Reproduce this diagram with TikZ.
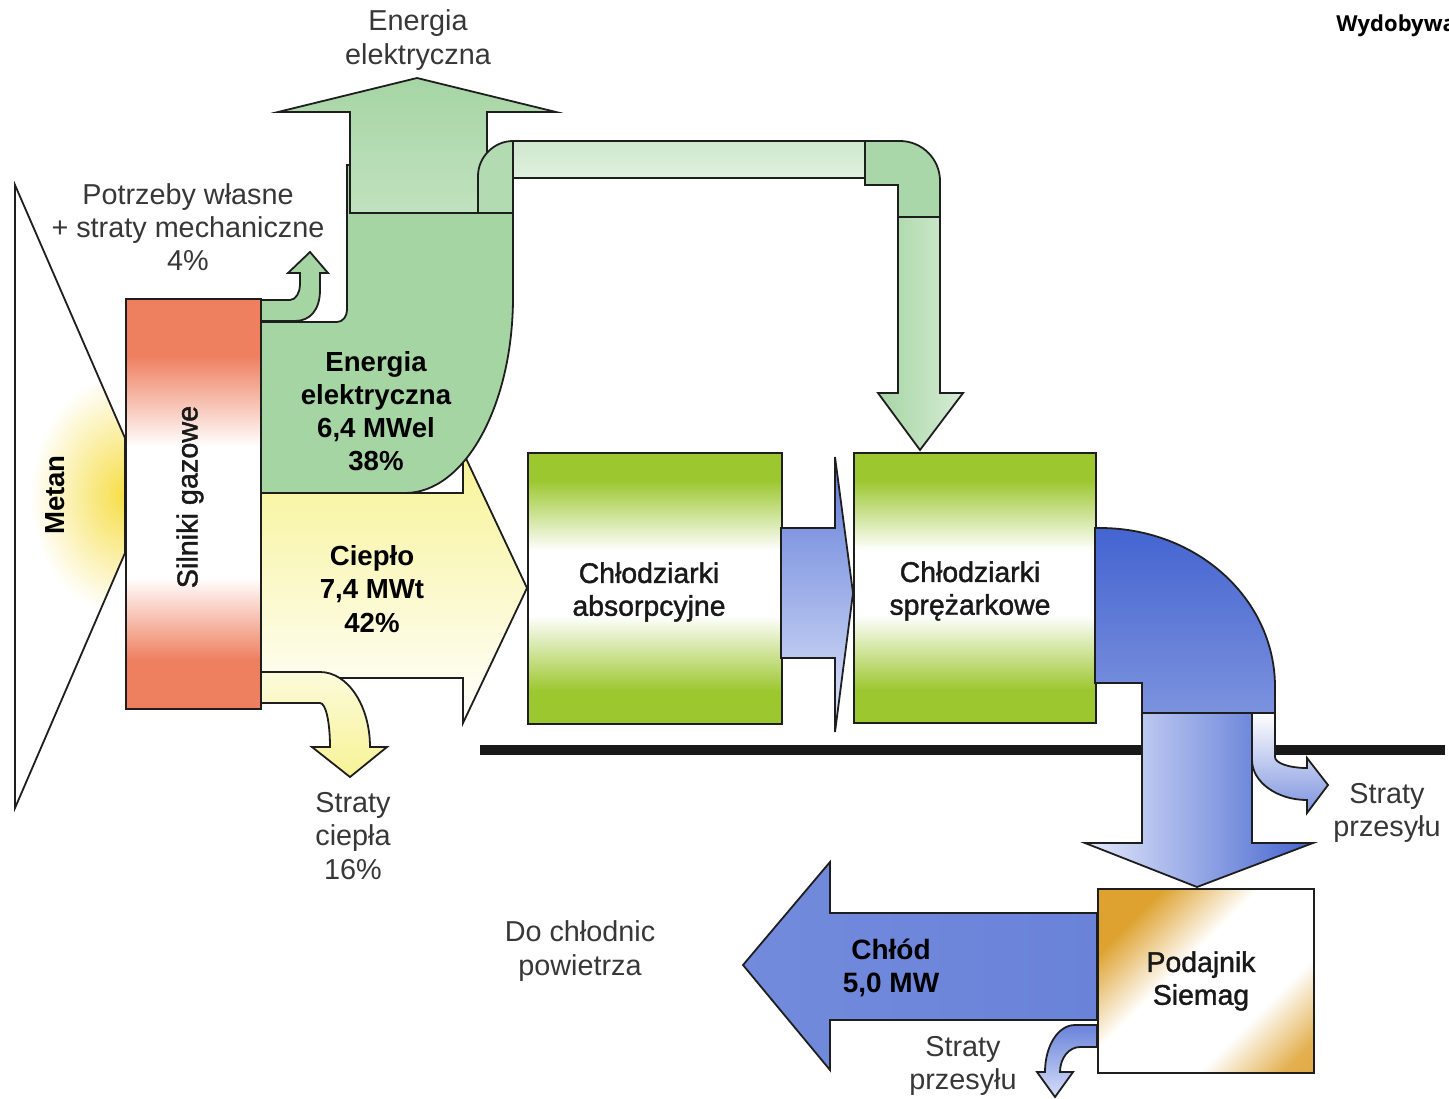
\documentclass[tikz,border=0pt]{standalone}
\usepackage{fontspec}
\setmainfont{Liberation Sans}
\newfontfamily\boxfont[FakeBold=1.4]{Liberation Sans}
\newfontfamily\titlefont{Open Sans}

\definecolor{salmon}{RGB}{238,128,96}
\definecolor{flowgreen}{RGB}{166,213,164}
\definecolor{paleyellow}{RGB}{247,243,150}
\definecolor{metanyellow}{RGB}{246,222,70}
\definecolor{limegreen}{RGB}{156,199,46}
\definecolor{flowblue}{RGB}{68,100,208}
\definecolor{lightblue}{RGB}{196,208,246}
\definecolor{gold}{RGB}{222,162,48}
\definecolor{outline}{RGB}{30,30,30}
\definecolor{labelgray}{RGB}{55,55,55}

% bands: salmon at both ends, white in the middle
\pgfdeclareverticalshading{silnikiband}{100bp}{color(0bp)=(salmon); color(31bp)=(salmon); color(41bp)=(white); color(57bp)=(white); color(68bp)=(salmon); color(100bp)=(salmon)}
% chiller boxes: lime green top and bottom, white centre
\pgfdeclareverticalshading{chillerband}{100bp}{color(0bp)=(limegreen); color(31bp)=(limegreen); color(45bp)=(white); color(57bp)=(white); color(70bp)=(limegreen); color(100bp)=(limegreen)}
% feeder box: gold corners with a white diagonal band
\pgfdeclareverticalshading{feederband}{100bp}{color(0bp)=(gold); color(20bp)=(gold!85!white); color(35bp)=(white); color(57bp)=(white); color(74bp)=(gold); color(100bp)=(gold)}

\begin{document}
\begin{tikzpicture}[x=0.5pt,y=-0.5pt,
  flowedge/.style={draw=outline, line width=0.9pt, line join=miter},
  boxshape/.style={draw=outline, line width=0.9pt, rectangle, inner sep=0pt, anchor=north west},
  plainlbl/.style={align=center, inner sep=0pt, text=labelgray, font=\fontsize{14.4}{16.6}\selectfont},
  flowlbl/.style={align=center, inner sep=0pt, text=black, font=\fontsize{13.8}{16.6}\selectfont\bfseries},
  boxlbl/.style={align=center, inner sep=0pt, text=black!90, font=\boxfont\fontsize{14.2}{16.4}\selectfont},
  greenflow/.style={flowedge, fill=flowgreen},
]
\useasboundingbox (0,0) rectangle (1449,1098);
\begin{scope}
\clip (0,0) rectangle (1449,1098);

% ---- Metan input wedge
\fill[white] (15,185) -- (125,438) -- (125,553) -- (15,808) -- cycle;
\begin{scope}
  \clip (15,185) -- (125,438) -- (125,553) -- (15,808) -- cycle;
  \shade[inner color=metanyellow, outer color=white] (125,495) ellipse [x radius=95, y radius=120];
\end{scope}
\draw[flowedge] (15,185) -- (125,438) -- (125,553) -- (15,808) -- cycle;

% ---- heat flow (Ciepło)
\draw[flowedge, top color=paleyellow, middle color=paleyellow!75!white, bottom color=white]
  (260,493) -- (463,493) -- (463,452) -- (527,588) -- (463,723) -- (463,678) -- (260,678) -- cycle;
% heat losses
\draw[flowedge, top color=paleyellow!35!white, bottom color=paleyellow]
  (260,672) -- (320,672) .. controls (348,672) and (370,706) .. (370,747)
  -- (387,747) -- (350,777) -- (312,747) -- (330,747)
  .. controls (330,723) and (326,703) .. (320,703) -- (260,703) -- cycle;

% ---- chillers
\node[boxshape, shading=chillerband, minimum width=127pt, minimum height=135.5pt] (absorp) at (527,452) {};
\draw[flowedge, top color=flowblue!85!white, bottom color=lightblue!55!white]
  (781,528) -- (835,528) -- (835,457) -- (853,593) -- (835,732) -- (835,658) -- (781,658) -- cycle;
\node[boxshape, shading=chillerband, minimum width=121pt, minimum height=135pt] (sprez) at (853,452) {};

% ---- own needs + mechanical losses
\draw[greenflow]
  (260,300) -- (290,300) .. controls (296,300) and (300,292) .. (300,285)
  -- (300,273) -- (288,273) -- (310,252) -- (328,273) -- (320,273)
  -- (320,290) .. controls (320,310) and (310,321) .. (295,321) -- (260,321) -- cycle;

% ---- electric energy body
\draw[greenflow]
  (260,322) -- (337,322) .. controls (343,322) and (347,316) .. (347,310)
  -- (347,165) -- (350,165) -- (350,213) -- (513,213) -- (513,297)
  .. controls (513,405) and (465,493) .. (405,493) -- (260,493) -- cycle;
% electric energy out (up)
\draw[flowedge, top color=flowgreen, bottom color=flowgreen!70!white]
  (350,213) -- (350,112) -- (278,112) -- (417,78) -- (556,112) -- (487,112) -- (487,213) -- cycle;

% ---- pipe to the compressor chillers
\draw[flowedge, fill=flowgreen!85!white]
  (478,213) -- (478,176) .. controls (478,157) and (494,141) .. (513,141) -- (513,213) -- cycle;
\draw[flowedge, top color=flowgreen!55!white, middle color=flowgreen!90!white, bottom color=flowgreen!35!white]
  (513,141) rectangle (865,178);
\draw[flowedge, fill=flowgreen!95!white]
  (865,141) -- (900,141) .. controls (922,141) and (940,159) .. (940,181)
  -- (940,217) -- (898,217) -- (898,185) -- (865,185) -- cycle;
\draw[flowedge, left color=flowgreen, right color=flowgreen!45!white]
  (898,217) -- (898,393) -- (878,393) -- (920,450) -- (963,393) -- (940,393) -- (940,217) -- cycle;

% ---- engines
\node[boxshape, shading=silnikiband, minimum width=67.5pt, minimum height=205pt] (silniki) at (125,298) {};

% ---- ground line
\draw[line width=5pt, black!90] (480,750) -- (1445,750);

% ---- cold distribution
\draw[flowedge, top color=flowblue, bottom color=flowblue!70!white]
  (1095,528) -- (1100,528) .. controls (1197,528) and (1275,599) .. (1275,687)
  -- (1275,713) -- (1142,713) -- (1142,683) -- (1095,683) -- cycle;
\draw[flowedge, left color=lightblue!45!white, right color=flowblue]
  (1142,713) -- (1142,843) -- (1085,843) -- (1197,887) -- (1313,843) -- (1252,843) -- (1252,713) -- cycle;
\draw[flowedge, top color=white, bottom color=flowblue!70!white]
  (1252,713) -- (1275,713) -- (1275,757) .. controls (1275,763) and (1289,768) .. (1307,768)
  -- (1307,758) -- (1328,785) -- (1307,813) -- (1307,800)
  .. controls (1277,800) and (1252,782) .. (1252,760) -- cycle;

% ---- feeder and cold output
\draw[flowedge, left color=flowblue!75!white, middle color=flowblue, right color=flowblue!80!white]
  (1097,913) -- (830,913) -- (830,862) -- (743,965) -- (830,1070) -- (830,1020) -- (1097,1020) -- cycle;
\draw[flowedge, top color=flowblue!80!white, bottom color=lightblue!70!white]
  (1097,1025) -- (1075,1025) .. controls (1058,1025) and (1045,1046) .. (1045,1072)
  -- (1037,1072) -- (1055,1097) -- (1073,1072) -- (1060,1072)
  .. controls (1060,1058) and (1069,1047) .. (1080,1047) -- (1097,1047) -- cycle;
\node[boxshape, shading=feederband, shading angle=45, minimum width=108pt, minimum height=92pt] (podajnik) at (1097,888) {};

% ---- labels
\node[plainlbl] (elout) at (418,40) {Energia\\elektryczna};
\node[plainlbl] (own) at (188,227) {Potrzeby własne\\+ straty mechaniczne\\4\%};
\node[flowlbl] (elflow) at (376,411) {Energia\\elektryczna\\6,4 MWel\\38\%};
\node[flowlbl] (heatflow) at (372,589) {Ciepło\\7,4 MWt\\42\%};
\node[plainlbl] (heatloss) at (353,836) {Straty\\ciepła\\16\%};
\node[flowlbl, rotate=90, font=\fontsize{13.8}{16}\selectfont\bfseries] (metanlbl) at (55,495) {Metan};
\node[boxlbl, rotate=90, font=\boxfont\fontsize{14.4}{16}\selectfont] (silnikilbl) at (190,497) {Silniki gazowe};
\node[boxlbl] (absorplbl) at (649,592) {Chłodziarki\\absorpcyjne};
\node[boxlbl] (sprezlbl) at (970,591) {Chłodziarki\\sprężarkowe};
\node[plainlbl] (lossright) at (1387,813) {Straty\\przesyłu};
\node[plainlbl] (coolers) at (580,951) {Do chłodnic\\powietrza};
\node[flowlbl, font=\fontsize{14}{16.6}\selectfont\bfseries] (coldlbl) at (891,968) {Chłód\\5,0 MW};
\node[boxlbl] (podajniklbl) at (1201,981) {Podajnik\\Siemag};
\node[plainlbl] (lossbottom) at (963,1066) {Straty\\przesyłu};
\node[anchor=west, inner sep=0pt, font=\titlefont\bfseries\fontsize{11}{13}\selectfont] (header) at (1336,26) {Wydobywa};
\end{scope}
\end{tikzpicture}
\end{document}
